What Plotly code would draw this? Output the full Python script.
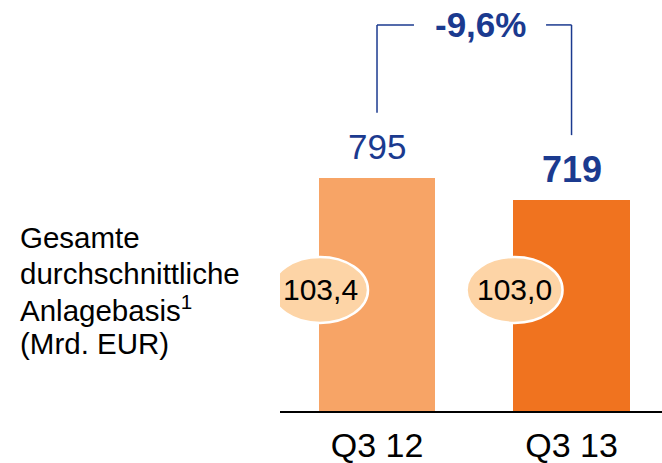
import plotly.graph_objects as go

# ---- data ----
categories = ["Q3 12", "Q3 13"]
values = [795, 719]
value_labels = ["795", "719"]
yield_labels = ["103,4", "103,0"]
change_label = "-9,6%"
left_title = ["Gesamte", "durchschnittliche", "Anlagebasis<sup>1</sup>", "(Mrd. EUR)"]

bar_colors = ["#F7A466", "#F0731F"]
ellipse_color = "#FDD4A6"
blue = "#1B3A8F"
FONT = "Liberation Sans, Arial, sans-serif"

xs = list(range(len(categories)))

fig = go.Figure()
fig.add_trace(go.Bar(
    x=xs, y=values, width=0.60,
    marker=dict(color=bar_colors, line=dict(width=0)),
    hoverinfo="skip", showlegend=False,
))

# value labels above bars
for i, (v, t) in enumerate(zip(values, value_labels)):
    fig.add_annotation(
        x=i, y=v, xref="x", yref="y", text=f"<b>{t}</b>" if i == 1 else t,
        showarrow=False, yanchor="middle", yshift=31,
        font=dict(family=FONT, size=35 if i == 0 else 36, color=blue),
    )

# ellipses with yield labels
ELL_Y = 413
for i, t in enumerate(yield_labels):
    fig.add_shape(
        type="circle", xref="x", yref="y",
        xsizemode="pixel", ysizemode="pixel",
        xanchor=i - 0.293, yanchor=ELL_Y,
        x0=-48, x1=48, y0=-33, y1=33,
        fillcolor=ellipse_color, line=dict(color="white", width=2.5),
        layer="above",
    )
    fig.add_annotation(
        x=i - 0.293, y=ELL_Y, xref="x", yref="y", text=t, showarrow=False,
        font=dict(family=FONT, size=30, color="black"),
    )

# bracket
OFF = 222
TOP = 1317
fig.add_shape(type="line", xref="x", yref="y", x0=0, x1=0, y0=values[0] + OFF, y1=TOP,
              line=dict(color=blue, width=1.5))
fig.add_shape(type="line", xref="x", yref="y", x0=0, x1=0.19, y0=TOP, y1=TOP,
              line=dict(color=blue, width=1.5))
fig.add_shape(type="line", xref="x", yref="y", x0=0.869, x1=1, y0=TOP, y1=TOP,
              line=dict(color=blue, width=1.5))
fig.add_shape(type="line", xref="x", yref="y", x0=1, x1=1, y0=values[1] + OFF, y1=TOP,
              line=dict(color=blue, width=1.5))
fig.add_annotation(x=0.53, y=TOP, xref="x", yref="y", text=f"<b>{change_label}</b>",
                   showarrow=False, font=dict(family=FONT, size=35, color=blue))

# left title lines
line_y = [238, 273.5, 308.5, 343]
for t, py in zip(left_title, line_y):
    fig.add_annotation(
        x=(18 - 280) / 382, y=(411 - py) / 411, xref="paper", yref="paper",
        text=t, showarrow=False, xanchor="left", yanchor="middle", align="left",
        font=dict(family=FONT, size=29.5, color="black"),
    )

fig.update_layout(
    width=662, height=463,
    margin=dict(l=280, r=0, t=0, b=52, autoexpand=False),
    paper_bgcolor="white", plot_bgcolor="white",
    bargap=0,
    xaxis=dict(
        range=[-0.4987, 1.465], tickvals=xs, ticktext=categories,
        showgrid=False, zeroline=False, showline=True, linecolor="black", linewidth=1.5,
        ticks="", tickfont=dict(family=FONT, size=34, color="black"),
        ticklabelstandoff=3, automargin=False,
    ),
    yaxis=dict(range=[0, 1402], visible=False, showgrid=False, zeroline=False),
)

fig.write_html("out.html", post_script="document.body.style.margin='0';",
               config={"displayModeBar": False})
